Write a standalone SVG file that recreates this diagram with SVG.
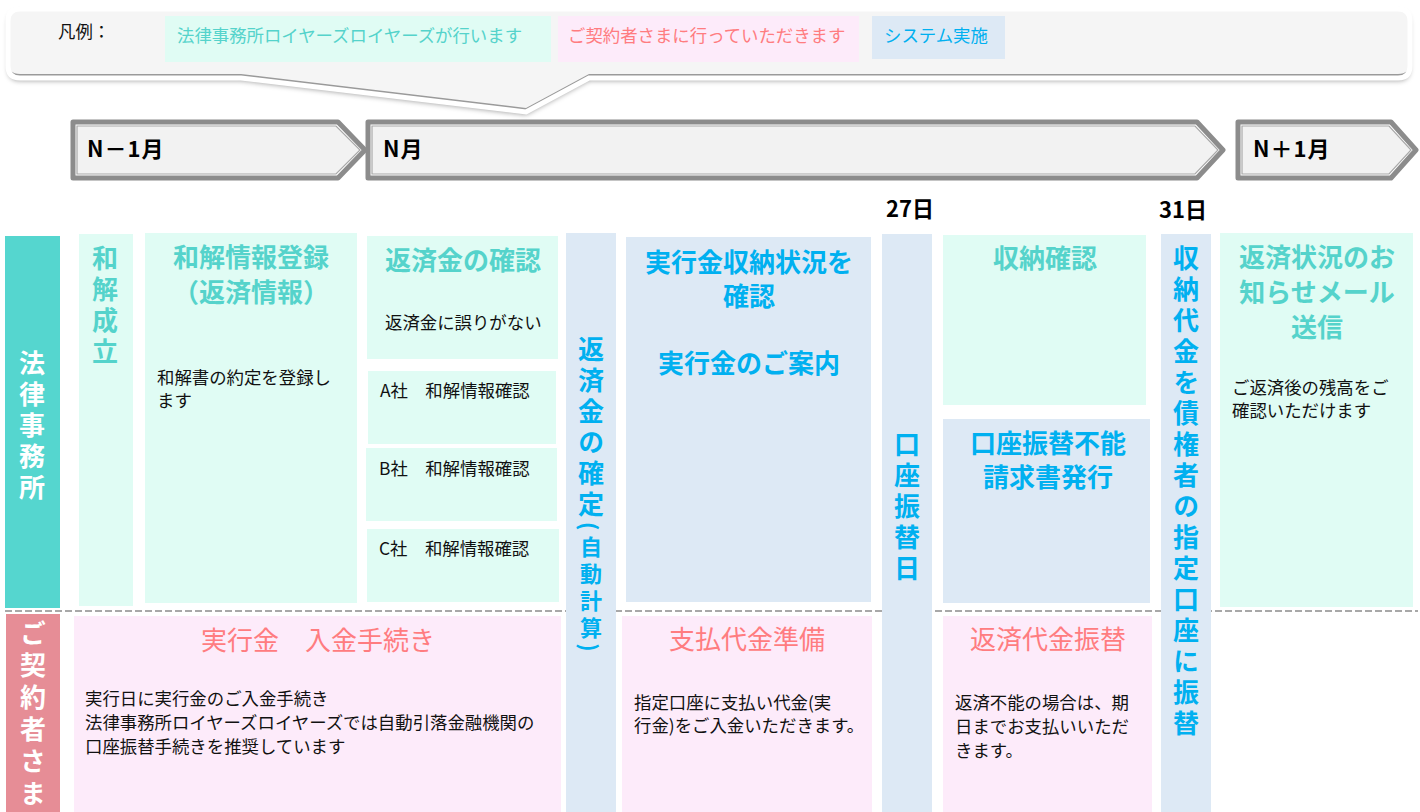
<svg xmlns="http://www.w3.org/2000/svg" width="1420" height="812" viewBox="0 0 1420 812">
<defs>
<style>
text{font-family:"Noto Sans CJK JP","Noto Sans",sans-serif}
.teal{fill:#e0fcf4}
.blue{fill:#dde9f5}
.pink{fill:#fdebfa}
.ttl{font-size:26px;font-weight:700;text-anchor:middle}
.tt{fill:#55d3cb}
.tb{fill:#00b0f0}
.tp{fill:#ff7c80;font-weight:400}
.body{font-size:17.4px;fill:#111}
.vt{writing-mode:vertical-rl;font-size:26px;font-weight:700;letter-spacing:5px}
.arr-o{fill:#ffffff;stroke:#8c8c8c;stroke-width:5;stroke-linejoin:round}
.arr-i{fill:#f2f2f2;stroke:#a8a8a8;stroke-width:1.2}
.arr-t{font-size:22px;font-weight:700;fill:#000;letter-spacing:1px}
.day{font-size:22px;font-weight:700;fill:#000;text-anchor:middle}
.leg{font-size:17.4px}
</style>
<filter id="sh" x="-5%" y="-20%" width="110%" height="160%">
<feDropShadow dx="0" dy="3" stdDeviation="2.5" flood-color="#000" flood-opacity="0.35"/>
</filter>
<path id="callout" d="M20 9H1398Q1410 9 1410 21V66Q1410 78 1398 78H589L526 112L241 78H20Q8 78 8 66V21Q8 9 20 9Z"/>
<clipPath id="cc"><use href="#callout"/></clipPath>
</defs>

<g id="legend">
<use href="#callout" fill="#9a9a9a" filter="url(#sh)"/>
<g clip-path="url(#cc)"><use href="#callout" fill="#f5f5f5" transform="translate(0,-4)"/></g>
<use href="#callout" fill="none" stroke="#ffffff" stroke-width="5"/>
<text x="58" y="38" class="leg" fill="#111">凡例：</text>
<rect x="165" y="16" width="386" height="46" class="teal"/>
<text x="177" y="42" class="leg" fill="#55d3cb">法律事務所ロイヤーズロイヤーズが行います</text>
<rect x="558" y="16" width="301" height="46" class="pink"/>
<text x="568" y="42" class="leg" fill="#ff7c80">ご契約者さまに行っていただきます</text>
<rect x="872" y="16" width="133" height="43" class="blue"/>
<text x="884" y="42" class="leg" fill="#00b0f0">システム実施</text>
</g>

<g id="month-prev">
<polygon class="arr-o" points="73,122 338,122 365,150 338,178 73,178"/>
<polygon class="arr-i" points="77,126 336,126 360,150 336,174 77,174"/>
<text x="87" y="157" class="arr-t">N－1月</text>
</g>
<g id="month-n">
<polygon class="arr-o" points="368,122 1197,122 1223,150 1197,178 368,178"/>
<polygon class="arr-i" points="372,126 1195,126 1218,150 1195,174 372,174"/>
<text x="383" y="157" class="arr-t">N月</text>
</g>
<g id="month-next">
<polygon class="arr-o" points="1238,122 1391,122 1416,150 1391,178 1238,178"/>
<polygon class="arr-i" points="1242,126 1389,126 1411,150 1389,174 1242,174"/>
<text x="1253" y="157" class="arr-t">N＋1月</text>
</g>

<g id="day-27"><text x="910" y="217" class="day">27日</text></g>
<g id="day-31"><text x="1183" y="218" class="day">31日</text></g>

<g id="lane-divider">
<line x1="5" y1="611" x2="1418" y2="611" stroke="#a8a8a8" stroke-width="2" stroke-dasharray="7 3"/>
</g>

<g id="lane-office">
<rect x="5" y="236" width="55" height="372" fill="#55d6cf"/>
<text x="32" y="350" class="vt" fill="#ffffff">法律事務所</text>
</g>
<g id="lane-client">
<rect x="6" y="614" width="54" height="198" fill="#e68d96"/>
<text x="33" y="620" class="vt" fill="#ffffff" style="letter-spacing:6px">ご契約者さま</text>
</g>

<g id="wakai-seiritsu">
<rect x="79" y="234" width="54" height="372" class="teal"/>
<text x="105" y="245" class="vt tt">和解成立</text>
</g>

<g id="wakai-touroku">
<rect x="145" y="233" width="212" height="370" class="teal"/>
<text x="251" y="267" class="ttl tt">和解情報登録</text>
<text x="251" y="302" class="ttl tt">（返済情報）</text>
<text x="157" y="384" class="body">和解書の約定を登録し</text>
<text x="157" y="407" class="body">ます</text>
</g>

<g id="hensai-kakunin">
<rect x="367" y="236" width="191" height="123" class="teal"/>
<text x="463" y="270" class="ttl tt">返済金の確認</text>
<text x="385" y="329" class="body">返済金に誤りがない</text>
</g>
<g id="a-sha">
<rect x="368" y="371" width="188" height="73" class="teal"/>
<text x="380" y="397" class="body">A社　和解情報確認</text>
</g>
<g id="b-sha">
<rect x="366" y="448" width="191" height="73" class="teal"/>
<text x="379" y="475" class="body">B社　和解情報確認</text>
</g>
<g id="c-sha">
<rect x="367" y="529" width="192" height="73" class="teal"/>
<text x="379" y="555" class="body">C社　和解情報確認</text>
</g>

<g id="hensai-kakutei">
<rect x="566" y="233" width="50" height="579" class="blue"/>
<text x="591" y="336" class="vt tb">返済金の確定<tspan style="font-size:22px">(自動計算)</tspan></text>
</g>

<g id="jikkoukin-shunou">
<rect x="626" y="237" width="245" height="365" class="blue"/>
<text x="749" y="272" class="ttl tb">実行金収納状況を</text>
<text x="749" y="306" class="ttl tb">確認</text>
<text x="749" y="373" class="ttl tb">実行金のご案内</text>
</g>

<g id="furikae-bi">
<rect x="882" y="234" width="50" height="578" class="blue"/>
<text x="907" y="431" class="vt tb">口座振替日</text>
</g>

<g id="shunou-kakunin">
<rect x="943" y="235" width="203" height="170" class="teal"/>
<text x="1045" y="268" class="ttl tt">収納確認</text>
</g>

<g id="funou-seikyu">
<rect x="943" y="419" width="207" height="184" class="blue"/>
<text x="1048" y="453" class="ttl tb">口座振替不能</text>
<text x="1048" y="487" class="ttl tb">請求書発行</text>
</g>

<g id="saikensha-furikae">
<rect x="1161" y="234" width="50" height="578" class="blue"/>
<text x="1186" y="245" class="vt tb">収納代金を債権者の指定口座に振替</text>
</g>

<g id="oshirase-mail">
<rect x="1220" y="233" width="193" height="374" class="teal"/>
<text x="1317" y="267" class="ttl tt">返済状況のお</text>
<text x="1317" y="302" class="ttl tt">知らせメール</text>
<text x="1317" y="337" class="ttl tt">送信</text>
<text x="1232" y="394" class="body">ご返済後の残高をご</text>
<text x="1232" y="417" class="body">確認いただけます</text>
</g>

<g id="nyukin-tetsuzuki">
<rect x="74" y="616" width="487" height="196" class="pink"/>
<text x="318" y="650" class="ttl tp">実行金　入金手続き</text>
<text x="85" y="705" class="body">実行日に実行金のご入金手続き</text>
<text x="85" y="729" class="body">法律事務所ロイヤーズロイヤーズでは自動引落金融機関の</text>
<text x="85" y="753" class="body">口座振替手続きを推奨しています</text>
</g>

<g id="shiharai-junbi">
<rect x="622" y="616" width="250" height="196" class="pink"/>
<text x="747" y="649" class="ttl tp">支払代金準備</text>
<text x="634" y="709" class="body">指定口座に支払い代金(実</text>
<text x="634" y="732" class="body">行金)をご入金いただきます。</text>
</g>

<g id="hensai-furikae">
<rect x="943" y="616" width="209" height="196" class="pink"/>
<text x="1048" y="649" class="ttl tp">返済代金振替</text>
<text x="955" y="709" class="body">返済不能の場合は、期</text>
<text x="955" y="733" class="body">日までお支払いいただ</text>
<text x="955" y="757" class="body">きます。</text>
</g>
</svg>
